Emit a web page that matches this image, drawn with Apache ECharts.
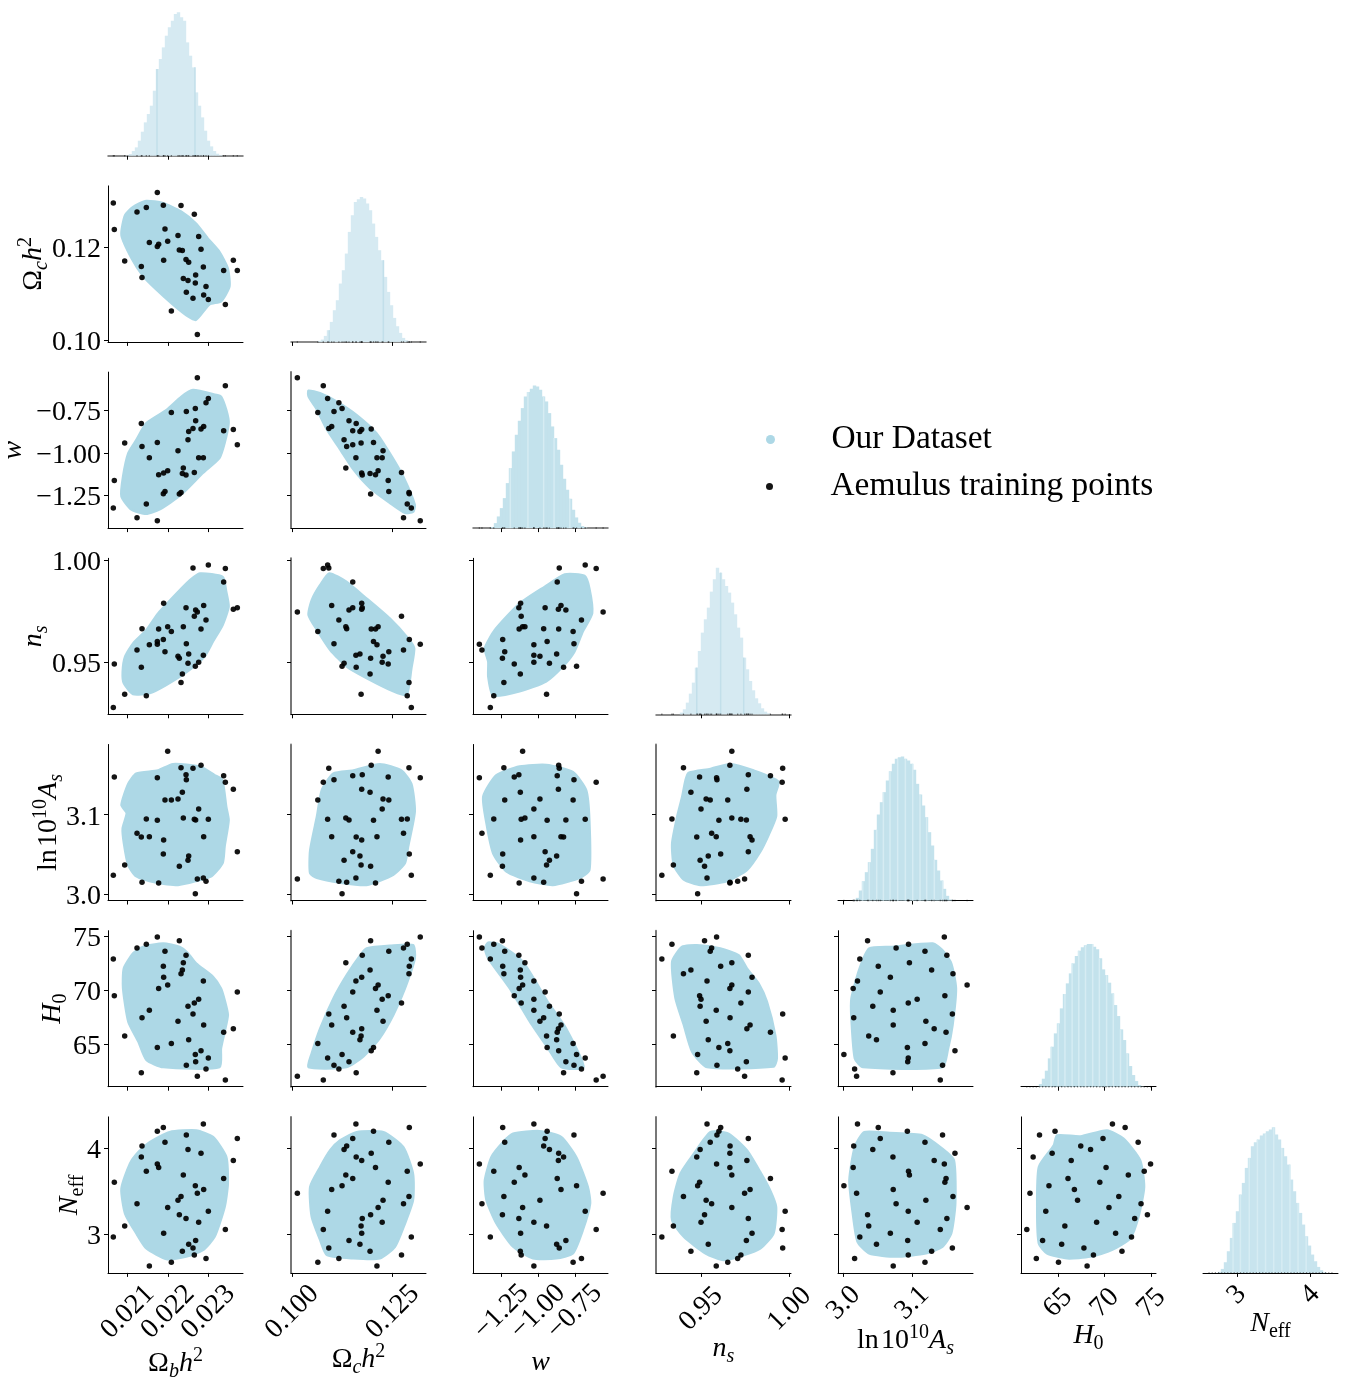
<!DOCTYPE html>
<html><head><meta charset="utf-8">
<style>html,body{margin:0;padding:0;background:#fff}#c{width:1357px;height:1378px}</style>
<script src="https://cdn.jsdelivr.net/npm/echarts@6/dist/echarts.min.js"></script>
</head><body><div id="c"></div>
<script>
// The 40 Aemulus training points, one array per parameter, same order in all arrays
// (omegaB and omegaC are in units of 1e-3)
const omegaB=[20.643,20.668,20.925,21.231,21.338,21.355,21.462,21.537,21.735,21.735,21.768,21.884,21.892,21.925,21.992,22.083,22.248,22.281,22.356,22.323,22.380,22.447,22.496,22.513,22.455,22.620,22.653,22.686,22.678,22.728,22.761,22.819,22.877,22.885,22.943,23.001,23.381,23.423,23.621,23.720];
const omegaC=[129.63,123.88,117.13,127.69,115.91,113.54,128.62,121.08,131.86,120.22,120.72,129.13,117.28,124.03,121.37,106.36,122.59,119.50,119.36,129.05,113.33,117.42,112.89,116.84,110.38,109.09,127.19,114.12,112.39,101.26,122.38,119.65,115.84,109.81,111.60,108.80,115.05,107.72,117.28,115.05];
const wDE=[-1.3256,-1.1624,-0.9422,-1.3826,-0.8262,-0.9619,-1.3020,-1.0287,-1.4003,-0.9383,-1.1290,-1.2411,-1.1192,-1.2273,-1.1054,-0.7613,-0.9874,-1.2430,-1.1211,-1.2332,-1.0897,-1.1310,-0.9226,-0.8734,-0.7554,-0.8557,-1.1152,-0.8105,-0.7377,-0.5568,-1.0287,-0.8596,-1.0287,-0.8439,-0.7043,-0.6787,-0.8695,-0.6040,-0.8616,-0.9520];
const nS=[0.9279,0.9492,0.9344,0.9560,0.9476,0.9664,0.9336,0.9586,0.9588,0.9601,0.9663,0.9611,0.9788,0.9552,0.9674,0.9651,0.9529,0.9520,0.9443,0.9401,0.9674,0.9767,0.9495,0.9541,0.9590,0.9961,0.9725,0.9756,0.9481,0.9746,0.9500,0.9663,0.9534,0.9777,0.9707,0.9975,0.9892,0.9958,0.9759,0.9767];
const lnAs=[3.0235,3.1475,3.0365,3.0764,3.0718,3.0146,3.0945,3.0722,3.1467,3.0928,3.0138,3.0504,3.0680,3.1185,3.1799,3.1185,3.1198,3.0348,3.1282,3.1593,3.0958,3.1504,3.0424,3.0478,3.1441,3.1584,3.0941,3.0933,3.0003,3.0188,3.1071,3.1622,3.0201,3.0722,3.0159,3.0941,3.1492,3.1408,3.1319,3.0533];
const hubble=[72.87,69.48,65.74,73.89,62.35,67.44,74.23,68.12,74.91,64.69,70.15,72.19,71.17,73.58,70.46,65.06,67.10,74.57,71.85,71.51,72.53,73.21,68.49,65.40,63.03,67.78,68.80,63.36,64.04,62.01,69.14,64.38,70.83,66.76,62.69,63.70,66.08,61.67,66.42,69.82];
const nEff=[2.965,3.606,3.094,3.352,3.902,4.031,3.734,2.625,3.820,4.203,3.777,4.246,3.008,4.074,3.309,2.668,3.395,3.223,2.797,3.438,3.691,3.180,3.988,2.879,4.160,2.836,2.754,2.922,3.563,3.477,3.137,3.945,4.289,3.520,2.711,3.266,3.648,3.051,3.859,4.117];

// Outline of the "Our Dataset" cloud in each panel: [x value, y value]
const cloudOcOb=[[21.46,130.1],[21.88,129.6],[22.33,127.8],[22.70,125.2],[22.99,122.0],[23.28,119.1],[23.49,115.5],[23.53,111.6],[23.32,108.4],[23.03,107.7],[22.70,104.4],[22.50,105.1],[22.12,107.7],[21.71,110.9],[21.38,113.8],[21.09,117.7],[20.84,122.7],[20.93,127.0],[21.13,128.8]];
const cloudWOb=[[22.62,-0.628],[23.20,-0.657],[23.32,-0.667],[23.45,-0.746],[23.51,-0.824],[23.41,-0.942],[23.28,-1.031],[22.87,-1.119],[22.33,-1.247],[21.79,-1.335],[21.46,-1.361],[21.09,-1.335],[20.84,-1.257],[20.88,-1.139],[21.01,-1.001],[21.21,-0.923],[21.46,-0.824],[21.96,-0.746],[22.33,-0.667]];
const cloudWOc=[[104.0,-0.632],[106.9,-0.647],[111.05,-0.696],[116.0,-0.775],[121.0,-0.883],[124.3,-1.001],[127.65,-1.139],[130.55,-1.306],[130.1,-1.349],[128.1,-1.355],[124.3,-1.296],[119.35,-1.208],[115.2,-1.099],[111.9,-0.981],[108.6,-0.864],[106.1,-0.746],[104.0,-0.667]];
const cloudNsOb=[[22.79,0.9935],[23.36,0.9918],[23.45,0.9845],[23.51,0.9772],[23.36,0.9682],[23.12,0.9601],[22.91,0.9528],[22.54,0.9463],[21.96,0.9389],[21.55,0.9349],[21.13,0.9344],[20.90,0.9397],[20.87,0.9454],[20.93,0.9528],[21.13,0.9593],[21.46,0.9658],[21.75,0.9739],[22.25,0.9845],[22.54,0.9902]];
const cloudNsOc=[[109.2,0.9935],[113.5,0.9894],[118.5,0.9813],[124.3,0.9715],[128.9,0.9617],[130.4,0.9568],[129.7,0.9471],[128.5,0.9340],[125.2,0.9357],[118.5,0.9422],[113.5,0.9479],[109.4,0.9560],[106.1,0.9658],[104.0,0.9731],[104.8,0.9804],[106.9,0.9878]];
const cloudNsW=[[-0.819,0.9930],[-0.683,0.9923],[-0.649,0.9861],[-0.630,0.9739],[-0.694,0.9650],[-0.751,0.9552],[-0.830,0.9479],[-0.944,0.9406],[-1.126,0.9357],[-1.307,0.9337],[-1.341,0.9430],[-1.341,0.9503],[-1.364,0.9568],[-1.296,0.9658],[-1.126,0.9788],[-0.955,0.9870]];
const cloudAsOb=[[21.21,3.152],[21.75,3.156],[22.12,3.164],[22.79,3.161],[23.16,3.150],[23.35,3.144],[23.45,3.110],[23.51,3.093],[23.41,3.060],[23.36,3.039],[23.08,3.022],[22.70,3.016],[22.25,3.011],[21.71,3.014],[21.21,3.022],[21.01,3.036],[20.90,3.064],[20.87,3.083],[20.97,3.102],[20.84,3.112],[21.01,3.139]];
const cloudAsOc=[[110.2,3.152],[115.2,3.156],[121.8,3.164],[127.2,3.156],[129.7,3.139],[130.55,3.104],[128.9,3.060],[128.1,3.039],[125.2,3.024],[118.5,3.011],[111.9,3.014],[106.1,3.020],[104.4,3.026],[104.4,3.055],[106.1,3.098],[107.3,3.131]];
const cloudAsW=[[-1.285,3.150],[-1.126,3.161],[-0.944,3.163],[-0.762,3.154],[-0.671,3.131],[-0.649,3.093],[-0.649,3.030],[-0.717,3.020],[-0.899,3.011],[-1.057,3.016],[-1.216,3.028],[-1.307,3.051],[-1.353,3.089],[-1.375,3.123]];
const cloudAsNs=[[0.9430,3.153],[0.9553,3.158],[0.9666,3.164],[0.9797,3.156],[0.9938,3.142],[0.9920,3.125],[0.9925,3.098],[0.9882,3.074],[0.9835,3.053],[0.9760,3.030],[0.9647,3.016],[0.9496,3.011],[0.9402,3.018],[0.9346,3.036],[0.9336,3.064],[0.9365,3.098],[0.9393,3.123],[0.9412,3.144]];
const cloudH0Ob=[[21.13,73.40],[21.38,74.01],[21.88,74.32],[22.29,74.01],[22.50,73.40],[22.70,72.47],[23.12,71.24],[23.32,70.15],[23.41,69.07],[23.49,67.69],[23.41,66.14],[23.32,64.60],[23.28,62.84],[21.88,62.84],[21.46,63.52],[21.26,65.22],[21.01,67.07],[20.88,70.15],[20.90,72.01]];
const cloudH0Oc=[[118.5,73.86],[124.3,74.11],[130.1,74.17],[130.55,72.93],[128.1,70.15],[125.2,67.69],[121.8,65.53],[117.7,63.83],[113.5,62.84],[104.0,62.84],[104.8,64.14],[106.9,66.45],[110.2,69.23],[113.5,71.39],[116.9,73.24]];
const cloudH0W=[[-1.341,74.41],[-1.262,74.23],[-1.103,72.62],[-0.933,68.92],[-0.808,66.45],[-0.689,62.84],[-0.842,62.84],[-0.933,64.60],[-1.057,67.07],[-1.194,70.15],[-1.341,72.93],[-1.364,73.86]];
const cloudH0Ns=[[0.9393,74.01],[0.9477,74.17],[0.9609,73.86],[0.9713,73.24],[0.9760,72.01],[0.9826,70.62],[0.9873,68.92],[0.9920,65.83],[0.9929,63.67],[0.9910,62.90],[0.9534,62.84],[0.9449,64.29],[0.9402,66.76],[0.9355,69.23],[0.9336,72.62]];
const cloudH0As=[[3.037,73.86],[3.071,74.01],[3.130,74.32],[3.144,73.70],[3.157,72.47],[3.164,70.15],[3.159,66.76],[3.152,64.44],[3.144,62.84],[3.028,62.84],[3.016,63.67],[3.011,67.38],[3.011,69.23],[3.023,72.01]];
const cloudNeOb=[[21.55,4.078],[22.04,4.195],[22.70,4.215],[23.12,4.137],[23.45,3.902],[23.49,3.590],[23.41,3.316],[23.16,2.965],[22.87,2.809],[22.45,2.731],[21.96,2.703],[21.46,2.828],[21.21,3.004],[20.93,3.238],[20.84,3.531],[21.05,3.824],[21.26,3.961]];
const cloudNeOc=[[111.9,4.098],[116.0,4.195],[122.7,4.195],[127.65,4.020],[130.1,3.707],[130.1,3.395],[128.1,3.121],[125.6,2.848],[121.8,2.711],[115.2,2.711],[108.6,2.750],[106.9,2.926],[104.8,3.199],[104.4,3.551],[106.9,3.785],[109.4,3.981]];
const cloudNeW=[[-1.171,4.176],[-0.989,4.207],[-0.842,4.137],[-0.739,3.902],[-0.660,3.551],[-0.644,3.356],[-0.694,3.043],[-0.762,2.770],[-0.876,2.711],[-1.035,2.711],[-1.171,2.848],[-1.285,3.121],[-1.353,3.395],[-1.364,3.629],[-1.319,3.902],[-1.239,4.078]];
const cloudNeNs=[[0.9553,4.195],[0.9656,4.176],[0.9760,3.981],[0.9835,3.727],[0.9891,3.512],[0.9925,3.316],[0.9910,3.004],[0.9835,2.828],[0.9741,2.750],[0.9628,2.691],[0.9525,2.770],[0.9402,2.965],[0.9336,3.160],[0.9346,3.434],[0.9383,3.707],[0.9459,3.941]];
const cloudNeAs=[[3.030,4.195],[3.067,4.184],[3.115,4.156],[3.144,4.000],[3.161,3.863],[3.163,3.356],[3.157,3.004],[3.144,2.848],[3.120,2.770],[3.076,2.731],[3.037,2.770],[3.020,2.906],[3.013,3.238],[3.008,3.629],[3.016,4.020]];
const cloudNeH0=[[64.90,4.156],[67.40,4.145],[70.25,4.215],[72.03,4.117],[73.81,3.863],[74.24,3.551],[73.63,3.199],[72.74,2.945],[70.78,2.809],[68.47,2.731],[65.97,2.711],[63.83,2.770],[62.94,2.887],[62.76,3.277],[62.94,3.785],[64.54,4.039]];

// Histogram counts (45 equal bins across each axis range, arbitrary count units)
const histOmegaB=[0,0,0,0,0,0,1,5,14,25,45,72,100,125,150,195,260,290,325,360,385,405,425,430,415,405,340,300,265,190,150,115,75,45,28,14,6,2,0,0,0,0,0,0,0];
const histOmegaC=[0,0,0,0,0,0,0,0,0,3,7,18,35,60,95,125,175,215,265,330,380,420,428,435,430,415,395,355,315,275,245,195,150,110,72,47,27,12,5,1,0,0,0,0,0];
const histW=[0,0,0,0,0,0,3,15,35,60,90,135,180,230,280,322,360,395,408,418,428,425,415,395,380,345,305,270,235,190,148,115,88,55,32,16,6,2,0,0,0,0,0,0,0];
const histNs=[0,0,0,0,0,0,0,0,5,15,35,62,95,140,190,245,285,320,368,405,440,425,405,385,365,335,300,260,230,170,135,100,72,48,33,18,8,3,0,0,0,0,0,0,0];
const histAs=[0,0,0,0,0,2,8,30,58,85,115,155,212,258,295,325,360,388,410,425,430,432,425,420,410,392,350,318,285,250,205,165,122,90,60,35,14,3,0,0,0,0,0,0,0];
const histH0=[0,0,0,0,0,0,8,24,48,85,120,160,190,235,278,310,340,370,392,408,418,424,428,428,420,412,385,352,335,312,280,245,212,172,140,100,62,35,17,5,1,0,0,0,0];
const histNe=[0,0,0,0,0,3,12,32,65,105,150,185,235,270,315,345,380,392,400,412,418,425,430,437,415,400,375,350,325,280,245,210,180,145,110,82,55,35,18,8,2,0,0,0,0];
// Values where a histogram shows a thin stripe of another tone
const stripesOmegaB=[21.727,22.669];
const stripesOmegaC=[109.2,122.67];
const stripesW=[-1.189,-1.069,-0.962,-0.891,-0.784];
const stripesNs=[0.9476,0.9611,0.9741];
const stripesAs=[3.0277,3.0374,3.0481,3.0578,3.0675,3.0787,3.0899,3.1006,3.1113,3.1210,3.1321,3.1443];
const stripesH0=[64.27,65.04,65.75,66.52,67.23,67.95,68.72,69.43,70.21,70.92,71.69,72.41];
const stripesNe=[2.95,3.05,3.17,3.28,3.39,3.50,3.61,3.72,3.83,3.94];

// Axis ranges and ticks
const rangeMin=[20.511,99.68,-1.4436,0.9246,2.9917,61.05,2.543];
const rangeMax=[23.861,133.29,-0.5234,1.0008,3.1885,75.49,4.371];
const xTickValues=[[21,22,23],[100,125],[-1.25,-1,-0.75],[0.95,1],[3,3.1],[65,70,75],[3,4]];
const xTickLabels=[['0.021','0.022','0.023'],['0.100','0.125'],['\u22121.25','\u22121.00','\u22120.75'],['0.95','1.00'],['3.0','3.1'],['65','70','75'],['3','4']];
const yTickValues=[[],[100,120],[-1.25,-1,-0.75],[0.95,1],[3,3.1],[65,70,75],[3,4]];
const yTickLabels=[[],['0.10','0.12'],['\u22121.25','\u22121.00','\u22120.75'],['0.95','1.00'],['3.0','3.1'],['65','70','75'],['3','4']];
const xNames=['{r|\u03A9}{sub|b}{i|h}{sup|2}','{r|\u03A9}{sub|c}{i|h}{sup|2}','{i|w}','{i|n}{sub|s}','{r|ln\u200A10}{supr|10}{i|A}{sub|s}','{i|H}{subr|0}','{i|N}{subr|eff}'];
const legendNames=['Our Dataset','Aemulus training points'];

// ---- layout ----
const values=[omegaB,omegaC,wDE,nS,lnAs,hubble,nEff];
const hists=[histOmegaB,histOmegaC,histW,histNs,histAs,histH0,histNe];
const stripes=[stripesOmegaB,stripesOmegaC,stripesW,stripesNs,stripesAs,stripesH0,stripesNe];
const clouds={'1_0':cloudOcOb,'2_0':cloudWOb,'2_1':cloudWOc,'3_0':cloudNsOb,'3_1':cloudNsOc,'3_2':cloudNsW,
 '4_0':cloudAsOb,'4_1':cloudAsOc,'4_2':cloudAsW,'4_3':cloudAsNs,'5_0':cloudH0Ob,'5_1':cloudH0Oc,'5_2':cloudH0W,'5_3':cloudH0Ns,'5_4':cloudH0As,
 '6_0':cloudNeOb,'6_1':cloudNeOc,'6_2':cloudNeW,'6_3':cloudNeNs,'6_4':cloudNeAs,'6_5':cloudNeH0};
const colLeft=[108,291,473,656,838,1021,1203];
const panelW=135,panelH=156,rowBottom0=155.7,rowPitch=186.2;
const xLabelMargin=[39,39,39,36,30,30,22];
const xNameGap=[73,69,72,58,50,45,33];
const yNameGap=[0,56,76,56,41,37,20];
const histBase=['#d6eaf2','#d6eaf2','#c3e2ec','#d6eaf2','#c3e2ec','#c3e2ec','#c8e4ee'];
const stripeTone=['#c2dfea','#c2dfea','#d6ecf3','#c2dfea','#d6ecf3','#d6ecf3','#d6ecf3'];
const FONT='"Liberation Serif","DejaVu Serif",serif';
const BLUE='#add8e6';
const rich={
 r:{fontFamily:FONT,fontSize:28,lineHeight:36,verticalAlign:'middle',color:'#000'},
 i:{fontFamily:FONT,fontSize:28,fontStyle:'italic',lineHeight:36,verticalAlign:'middle',color:'#000'},
 sub:{fontFamily:FONT,fontSize:20,fontStyle:'italic',lineHeight:20,verticalAlign:'bottom',color:'#000'},
 subr:{fontFamily:FONT,fontSize:20,lineHeight:20,verticalAlign:'bottom',color:'#000'},
 sup:{fontFamily:FONT,fontSize:20,lineHeight:16,verticalAlign:'top',color:'#000'},
 supr:{fontFamily:FONT,fontSize:20,lineHeight:16,verticalAlign:'top',color:'#000'}
};

const grid=[],xAxis=[],yAxis=[],series=[];
function lookup(vals,labs){return v=>{const i=vals.findIndex(t=>Math.abs(t-v)<1e-9);return i<0?'':labs[i];};}

function addPanel(r,c){
  const id=grid.length, isHist=r===c, bottomRow=r===6, leftCol=c===0;
  const top=rowBottom0+rowPitch*r-panelH;
  grid.push({left:colLeft[c],top:top,width:panelW,height:panelH,containLabel:false,outerBoundsMode:'none'});
  const greyX=isHist&&r<4;
  const ax=(color,width)=>({show:true,lineStyle:{color:color,width:width}});
  // The w column's labels sit close together: blank end labels keep ECharts from dropping a real one.
  const labelValues=c===2?[rangeMin[c]].concat(xTickValues[c],[rangeMax[c]]):xTickValues[c];
  xAxis.push({type:'value',gridIndex:id,min:rangeMin[c],max:rangeMax[c],
    axisLine:Object.assign(ax(greyX?'#666':'#000',greyX?1.5:1),{onZero:false}),
    axisTick:{show:true,length:4,inside:false,customValues:xTickValues[c],lineStyle:{color:'#000',width:1}},
    splitLine:{show:false},
    axisLabel:{show:bottomRow,customValues:labelValues,formatter:lookup(xTickValues[c],xTickLabels[c]),
      rotate:45,align:'center',verticalAlign:'middle',margin:xLabelMargin[c],showMinLabel:true,showMaxLabel:true,
      lineHeight:20,fontFamily:FONT,fontSize:28,color:'#000',hideOverlap:false},
    name:bottomRow?xNames[c]:'',nameLocation:'middle',nameGap:xNameGap[c],nameMoveOverlap:false,
    nameTextStyle:{rich:rich,fontFamily:FONT,fontSize:28}});
  if(isHist){
    yAxis.push({type:'value',gridIndex:id,min:0,max:468,show:false});
  }else{
    const greySpine=c===1||c===3;
    yAxis.push({type:'value',gridIndex:id,min:rangeMin[r],max:rangeMax[r],
      axisLine:Object.assign(ax(greySpine?'#777':'#000',greySpine?2:1),{onZero:false}),
      axisTick:{show:true,length:4,customValues:yTickValues[r],lineStyle:{color:'#000',width:1}},
      splitLine:{show:false},
      axisLabel:{show:leftCol,customValues:yTickValues[r],formatter:lookup(yTickValues[r],yTickLabels[r]),
        margin:7,verticalAlign:'top',lineHeight:5,showMinLabel:true,showMaxLabel:true,fontFamily:FONT,fontSize:28,color:'#000',hideOverlap:false},
      name:leftCol?xNames[r]:'',nameLocation:'middle',nameRotate:90,nameGap:yNameGap[r],nameMoveOverlap:false,
      nameTextStyle:{rich:rich,fontFamily:FONT,fontSize:28}});
  }
  const axes={xAxisIndex:id,yAxisIndex:id,coordinateSystem:'cartesian2d'};
  if(isHist){
    const step=(rangeMax[c]-rangeMin[c])/45;
    series.push(Object.assign({},axes,{type:'bar',name:'hist '+c,barWidth:3.4,silent:true,
      itemStyle:{color:histBase[c]},
      data:hists[c].map((h,i)=>[rangeMin[c]+(i+0.5)*step,h])}));
    const stripeData=stripes[c].map(v=>[v,hists[c][Math.floor((v-rangeMin[c])/step)]]);
    series.push(Object.assign({},axes,{type:'custom',name:'stripes '+c,silent:true,z:3,
      encode:{x:0,y:1},data:stripeData,
      renderItem:(p,api)=>{
        const a=api.coord([api.value(0),0]),b=api.coord([api.value(0),api.value(1)]);
        return {type:'rect',shape:{x:a[0]-0.75,y:b[1],width:1.5,height:a[1]-b[1]},style:{fill:stripeTone[c]}};
      }}));
    series.push(Object.assign({},axes,{type:'scatter',name:'rug '+c,silent:true,z:4,
      symbol:'rect',symbolSize:[1.2,1.5],itemStyle:{color:'#000',opacity:0.5},
      data:values[c].map(v=>[v,0])}));
  }else{
    const pts=clouds[r+'_'+c];
    series.push(Object.assign({},axes,{type:'custom',name:legendNames[0],silent:true,z:2,
      itemStyle:{color:BLUE},encode:{x:0,y:1},data:pts,
      renderItem:(p,api)=>{
        if(p.dataIndex!==0)return null;
        return {type:'polygon',shape:{points:pts.map(q=>api.coord(q)),smooth:0.2},
          style:{fill:BLUE,stroke:BLUE,lineWidth:2,lineJoin:'round'}};
      }}));
    series.push(Object.assign({},axes,{type:'scatter',name:legendNames[1],silent:true,z:5,
      symbol:'circle',symbolSize:5.5,itemStyle:{color:'#000',opacity:0.92},
      data:values[c].map((v,i)=>[v,values[r][i]])}));
  }
}
for(let r=0;r<7;r++)for(let c=0;c<=r;c++)addPanel(r,c);

const legendText={fontFamily:FONT,fontSize:33.4,color:'#000'};
const legend=[
 {data:[{name:legendNames[0],icon:'circle'}],left:766,top:423,orient:'vertical',itemWidth:112,itemHeight:9,selectedMode:false,textStyle:legendText,padding:0},
 {data:[{name:legendNames[1],icon:'circle'}],left:766,top:470,orient:'vertical',itemWidth:112,itemHeight:7,selectedMode:false,textStyle:legendText,padding:0}
];
const chart=echarts.init(document.getElementById('c'),null,{renderer:'canvas',width:1357,height:1378});
chart.setOption({animation:false,backgroundColor:'#fff',grid,xAxis,yAxis,series,legend});
</script></body></html>
